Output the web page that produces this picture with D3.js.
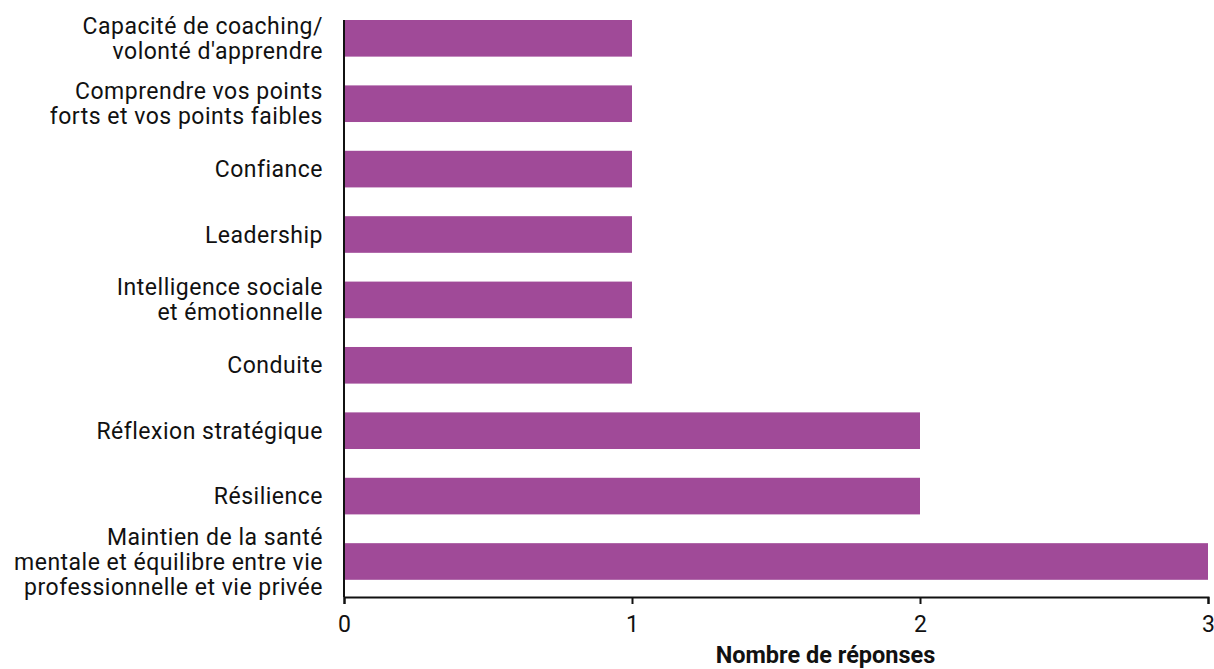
<!DOCTYPE html>
<html><head><meta charset="utf-8">
<script src="https://cdn.jsdelivr.net/npm/d3@7"></script>
<style>body{margin:0;background:#fff}svg{display:block}text{font-family:Roboto,"Noto Sans",sans-serif;fill:#111}</style>
</head><body><svg id="c" width="1214" height="669"></svg>
<script>
const categories = [
  ["Capacité de coaching/","volonté d'apprendre"],
  ["Comprendre vos points","forts et vos points faibles"],
  ["Confiance"],
  ["Leadership"],
  ["Intelligence sociale","et émotionnelle"],
  ["Conduite"],
  ["Réflexion stratégique"],
  ["Résilience"],
  ["Maintien de la santé","mentale et équilibre entre vie","professionnelle et vie privée"]
];
const values = [1,1,1,1,1,1,2,2,3];
const xTicks = [0,1,2,3];
const xTitle = "Nombre de réponses";

const svg = d3.select("#c");
const keys = categories.map(d=>d.join(" "));
const x = d3.scaleLinear().domain([0,3]).range([344,1208]);
const y = d3.scaleBand().domain(keys).range([20,579.8]).paddingInner(0.44).paddingOuter(0);

svg.append("g").selectAll("rect").data(values).join("rect")
  .attr("x", x(0)).attr("y",(d,i)=>y(keys[i]))
  .attr("width", d=>x(d)-x(0)).attr("height", y.bandwidth())
  .attr("fill","#a04a98");

// axes
const axisY = 597;
svg.append("line").attr("x1",x(0)).attr("x2",x(0)).attr("y1",20).attr("y2",axisY)
  .attr("stroke","#111").attr("stroke-width",2);
const xa = svg.append("g").attr("transform",`translate(0,${axisY})`)
  .call(d3.axisBottom(x).tickValues(xTicks).tickFormat(d3.format("d")).tickSize(7).tickPadding(12));
xa.select(".domain").attr("stroke","#111").attr("stroke-width",2);
xa.selectAll(".tick line").attr("stroke","#111").attr("stroke-width",2);
xa.selectAll(".tick text").style("font-size","23px").attr("fill","#111").style("font-family","Roboto,sans-serif");

// y labels
const fs = 23, lh = 25;
const lab = svg.append("g").selectAll("text").data(categories).join("text")
  .attr("text-anchor","end").style("font-size",fs+"px").style("letter-spacing","0.5px")
  .attr("y",(d,i)=>y(keys[i])+y.bandwidth()/2);
lab.each(function(d){
  const t = d3.select(this);
  d.forEach((line,j)=>{
    t.append("tspan").attr("x",323)
     .attr("dy", j===0 ? ((-(d.length-1)/2)*lh/fs+0.35)+"em" : (lh/fs)+"em")
     .text(line);
  });
});

svg.append("text").attr("x",825.5).attr("y",663).attr("text-anchor","middle")
  .style("font-size","23.5px").style("font-weight","bold").text(xTitle);
</script></body></html>
